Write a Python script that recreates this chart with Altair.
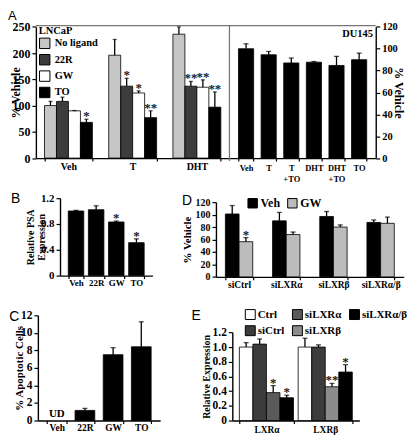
import altair as alt
import pandas as pd

SERIF = "Liberation Serif"
SANS = "Liberation Sans"

# ---------------- data ----------------
# Panel A (LNCaP)
a_groups = ["Veh", "T", "DHT"]
a_series = ["No ligand", "22R", "GW", "TO"]
a_noligand = [100, 196, 236]
a_noligand_err = [8, 30, 14]
a_noligand_sig = ["", "", ""]
a_22r = [108, 137, 137]
a_22r_err = [8, 15, 9]
a_22r_sig = ["", "*", "**"]
a_gw = [90, 124, 135]
a_gw_err = [0.6, 4, 14]
a_gw_sig = ["", "*", "**"]
a_to = [68, 77, 97]
a_to_err = [6, 13, 29]
a_to_sig = ["*", "**", "**"]

# Panel A (DU145)
du_cats = ["Veh", "T", "T+TO", "DHT", "DHT+TO", "TO"]
du_vals = [100, 94.5, 87, 87.7, 84.7, 90]
du_err = [4.5, 3, 4.5, 0.6, 8.3, 6]

# Panel B
b_cats = ["Veh", "22R", "GW", "TO"]
b_vals = [1.0, 1.02, 0.83, 0.51]
b_err = [0.01, 0.06, 0.015, 0.06]
b_sig = ["", "", "*", "*"]

# Panel C
c_cats = ["Veh", "22R", "GW", "TO"]
c_vals = [0, 1.15, 7.5, 8.4]
c_err = [0, 0.23, 0.8, 2.85]
c_note = ["UD", "", "", ""]

# Panel D
d_groups = ["siCtrl", "siLXRα", "siLXRβ", "siLXRα/β"]
d_series = ["Veh", "GW"]
d_veh = [101, 90, 97, 87.5]
d_veh_err = [13.5, 13.5, 8, 4]
d_veh_sig = ["", "", "", ""]
d_gw = [56.5, 68, 80, 86]
d_gw_err = [6.5, 4, 3.5, 10]
d_gw_sig = ["*", "", "", ""]

# Panel E
e_genes = ["LXRα", "LXRβ"]
e_legend_order = ["Ctrl", "siLXRα", "siLXRα/β", "siCtrl", "siLXRβ"]
e_lxra_series = ["Ctrl", "siCtrl", "siLXRα", "siLXRα/β"]
e_lxra_vals = [1.0, 1.04, 0.38, 0.31]
e_lxra_err = [0.06, 0.07, 0.095, 0.035]
e_lxra_sig = ["", "", "*", "*"]
e_lxrb_series = ["Ctrl", "siCtrl", "siLXRβ", "siLXRα/β"]
e_lxrb_vals = [1.0, 1.0, 0.46, 0.66]
e_lxrb_err = [0.12, 0.03, 0.045, 0.10]
e_lxrb_sig = ["", "", "**", "*"]

# ---------------- tables ----------------
def rows(cat, ser, pos, vals, errs, sigs):
    return [dict(cat=c, ser=s, pos=p, v=v, top=v + e, sig=g)
            for c, s, p, v, e, g in zip(cat, ser, pos, vals, errs, sigs)]

recs = []
for s, vals, errs, sigs in zip(a_series,
                               [a_noligand, a_22r, a_gw, a_to],
                               [a_noligand_err, a_22r_err, a_gw_err, a_to_err],
                               [a_noligand_sig, a_22r_sig, a_gw_sig, a_to_sig]):
    recs += rows(a_groups, [s] * 3, [s] * 3, vals, errs, sigs)
dfA = pd.DataFrame(recs)

dfDU = pd.DataFrame(rows(du_cats, du_cats, du_cats, du_vals, du_err, [""] * 6))
dfB = pd.DataFrame(rows(b_cats, b_cats, b_cats, b_vals, b_err, b_sig))
dfC = pd.DataFrame(rows(c_cats, c_cats, c_cats, c_vals, c_err, [""] * 4))
dfC["note"] = c_note

recs = []
for s, vals, errs, sigs in zip(d_series, [d_veh, d_gw], [d_veh_err, d_gw_err], [d_veh_sig, d_gw_sig]):
    recs += rows(d_groups, [s] * 4, [s] * 4, vals, errs, sigs)
dfD = pd.DataFrame(recs)

e_pos = ["p1", "p2", "p3", "p4"]
recs = rows(["LXRα"] * 4, e_lxra_series, e_pos, e_lxra_vals, e_lxra_err, e_lxra_sig)
recs += rows(["LXRβ"] * 4, e_lxrb_series, e_pos, e_lxrb_vals, e_lxrb_err, e_lxrb_sig)
dfE = pd.DataFrame(recs)

W, H = 400, 425


def yaxis(orient, axis_x, values, title, title_x, lab_size, title_size,
          title_lines=None, label_expr=None):
    kw = dict(orient=orient, values=values, title=title, titleX=title_x - axis_x,
              titleBaseline="middle", titleFontSize=title_size, labelFontSize=lab_size,
              tickSize=4, labelPadding=2, domainWidth=1.4, tickWidth=1.2, grid=False,
              labelOverlap=False, labelFlush=False)
    if orient == "left":
        kw["offset"] = -axis_x
        kw["titleAngle"] = 270
    else:
        kw["offset"] = axis_x - W
        kw["titleAngle"] = 90
    if title_lines:
        kw["titleLineHeight"] = title_lines
    if label_expr:
        kw["labelExpr"] = label_expr
    return alt.Axis(**kw)


def xaxis(axis_y, lab_size, lab_pad, label_expr=None):
    kw = dict(orient="bottom", offset=axis_y - H, title=None, labelFontSize=lab_size,
              labelPadding=lab_pad, labelBaseline="middle", labelAngle=0, tickSize=3,
              tickBand="extent", domainWidth=1.4, tickWidth=1.2, grid=False,
              labelOverlap=False, labelFlush=False, labelLineHeight=11.5)
    if label_expr:
        kw["labelExpr"] = label_expr
    return alt.Axis(**kw)


def panel(df, x_dom, x_rng, pi, po, y_dom, y_rng, x_ax, y_ax, fill,
          off_dom=None, cap=5, extra=None):
    X = alt.X("cat:N", sort=x_dom,
              scale=alt.Scale(domain=x_dom, range=x_rng, paddingInner=pi, paddingOuter=po),
              axis=x_ax)
    ysc = alt.Scale(domain=y_dom, range=y_rng, nice=False, zero=False)
    Yv = alt.Y("v:Q", scale=ysc, axis=y_ax)
    Yt = alt.Y("top:Q", scale=ysc, axis=y_ax)
    enc = dict(x=X)
    if off_dom:
        enc["xOffset"] = alt.XOffset("pos:N", sort=off_dom,
                                     scale=alt.Scale(domain=off_dom, paddingInner=0, paddingOuter=0))
    base = alt.Chart(df)
    bars = base.mark_bar(stroke="black", strokeWidth=0.8).encode(
        y=Yv, fill=fill, **enc).transform_filter("datum.v > 0")
    err = base.mark_rule(color="black", strokeWidth=1.3).encode(
        y=Yv, y2="top:Q", **enc).transform_filter("datum.top > datum.v")
    caps = base.mark_tick(color="black", thickness=1.3, size=cap).encode(
        y=Yt, **enc).transform_filter("datum.top > datum.v")
    stars = base.mark_text(font=SERIF, fontWeight="bold", fontSize=13, baseline="alphabetic",
                           dy=1, color="#1a1a1a").encode(y=Yt, text="sig:N", **enc)
    layers = [bars, err, caps, stars]
    if extra is not None:
        layers.append(extra(base, X, Yv))
    return alt.layer(*layers)


def leg(**kw):
    d = dict(orient="none", symbolType="square", symbolStrokeColor="black",
             symbolStrokeWidth=1, labelFont=SERIF, labelFontWeight="bold", labelColor="black",
             titleFont=SERIF, titleFontWeight="bold", titleColor="black", padding=0,
             symbolOpacity=1)
    d.update(kw)
    return alt.Legend(**d)


# ---------------- panel A, LNCaP ----------------
pA1 = panel(
    dfA, a_groups, [28.1, 223.1], 0.254, 0.134, [0, 250], [148.6, 16.4],
    xaxis(148.6, 10, 5.7),
    yaxis("left", 28.1, [0, 50, 100, 150, 200, 250], "% Vehicle", 7.8, 12, 12),
    alt.Fill("ser:N", sort=a_series,
             scale=alt.Scale(domain=a_series, range=["#c6c6c6", "#3c3c3c", "#ffffff", "#000000"]),
             legend=leg(title="LNCaP", legendX=31, legendY=15.5, direction="vertical",
                        symbolSize=110, labelFontSize=10.5, titleFontSize=10.5, titlePadding=1,
                        rowPadding=0.5, labelOffset=4)),
    off_dom=a_series, cap=4)

# ---------------- panel A, DU145 ----------------
pA2 = panel(
    dfDU, du_cats, [223.1, 370.5], 0.33, 0.4, [0, 120], [148.6, 16.4],
    xaxis(148.6, 8.5, 6.3, label_expr="split(replace(datum.label, '+', '|+'), '|')"),
    yaxis("right", 370.5, [0, 20, 40, 60, 80, 100, 120], "% Vehicle", 393, 10.5, 12),
    alt.value("black"), cap=5)

# ---------------- panel B ----------------
pB = panel(
    dfB, b_cats, [52.4, 145.5], 0.23, 0.41, [0, 1.2], [267.0, 188.9],
    xaxis(267.0, 9, 4),
    yaxis("left", 52.4, [0, 0.4, 0.8, 1.2], ["Relative PSA", "Expression"], 22.8, 11, 10,
          title_lines=10.5, label_expr="datum.value == 0 ? '0' : format(datum.value, '.1f')"),
    alt.value("black"), cap=5)

# ---------------- panel C ----------------
def ud_layer(base, X, Yv):
    return base.mark_text(font=SERIF, fontWeight="bold", fontSize=11, baseline="middle",
                          dy=-7, color="black").encode(x=X, y=Yv, text="note:N")

pC = panel(
    dfC, c_cats, [30.1, 153.3], 0.3, 0.32, [0, 12], [413.0, 306.9],
    xaxis(413.0, 9.5, 3.8),
    yaxis("left", 30.1, [0, 2, 4, 6, 8, 10, 12], "% Apoptotic Cells", 11.6, 11.5, 11),
    alt.value("black"), cap=5, extra=ud_layer)

# ---------------- panel D ----------------
pD = panel(
    dfD, d_groups, [209.5, 398.7], 0.42, 0.2, [0, 120], [268.3, 193.0],
    xaxis(268.3, 9.5, 4.2),
    yaxis("left", 209.5, [0, 20, 40, 60, 80, 100, 120], "% Vehicle", 180.4, 10, 11),
    alt.Fill("ser:N", sort=d_series,
             scale=alt.Scale(domain=d_series, range=["#000000", "#bcbcbc"]),
             legend=leg(title=None, legendX=240.5, legendY=188, direction="horizontal",
                        symbolSize=90, labelFontSize=12, labelOffset=2, columnPadding=5)),
    off_dom=d_series, cap=5)

# ---------------- panel E ----------------
pE = panel(
    dfE, e_genes, [226.0, 354.0], 0.08, 0.12, [0, 1.2], [413.0, 324.2],
    xaxis(413.0, 9.5, 5.7),
    yaxis("left", 226.0, [0, 0.2, 0.4, 0.6, 0.8, 1.0, 1.2], "Relative Expression", 200, 11.5, 10,
          label_expr="datum.value == 0 ? '0' : format(datum.value, '.1f')"),
    alt.Fill("ser:N", sort=e_legend_order,
             scale=alt.Scale(domain=e_legend_order,
                             range=["#ffffff", "#5a5a5a", "#000000", "#3c3c3c", "#8c8c8c"]),
             legend=leg(title=None, legendX=238.6, legendY=300.5, direction="horizontal",
                        columns=3, symbolSize=100, labelFontSize=11, labelOffset=2,
                        columnPadding=5.5, rowPadding=1.5)),
    off_dom=e_pos, cap=5)

# ---------------- annotations ----------------
one = pd.DataFrame({"k": [0]})
frame_top = alt.Chart(one).mark_rule(color="#777777", strokeWidth=1.3).encode(
    x=alt.value(28.1), x2=alt.value(370.5), y=alt.value(15.2))
frame_div = alt.Chart(one).mark_rule(color="#777777", strokeWidth=1.3).encode(
    x=alt.value(223.1), y=alt.value(15.2), y2=alt.value(151.5))


def label(txt, x, y, font=SANS, size=14, weight="normal", align="left"):
    return alt.Chart(one).mark_text(text=txt, font=font, fontSize=size, fontWeight=weight,
                                    align=align, baseline="alphabetic", color="black").encode(
        x=alt.value(x), y=alt.value(y))


letters = [
    label("A", 0.0, 9.6, size=13), label("B", 2.9, 194.0), label("C", 1.3, 312.7),
    label("D", 175.3, 196.2), label("E", 185.0, 311.4),
    label("DU145", 367.6, 27.0, font=SERIF, size=10.5, weight="bold", align="right"),
]

chart = alt.layer(pA1, pA2, pB, pC, pD, pE, frame_top, frame_div, *letters).resolve_scale(
    x="independent", y="independent", xOffset="independent", fill="independent"
).resolve_axis(x="independent", y="independent").resolve_legend(fill="independent").properties(
    width=W, height=H, padding=0
).configure_view(stroke=None).configure_axis(
    labelFont=SERIF, labelFontWeight="bold", labelColor="black",
    titleFont=SERIF, titleFontWeight="bold", titleColor="black",
    domainColor="black", tickColor="black"
)

chart.save("out.html", embed_options={"renderer": "svg", "actions": False})
